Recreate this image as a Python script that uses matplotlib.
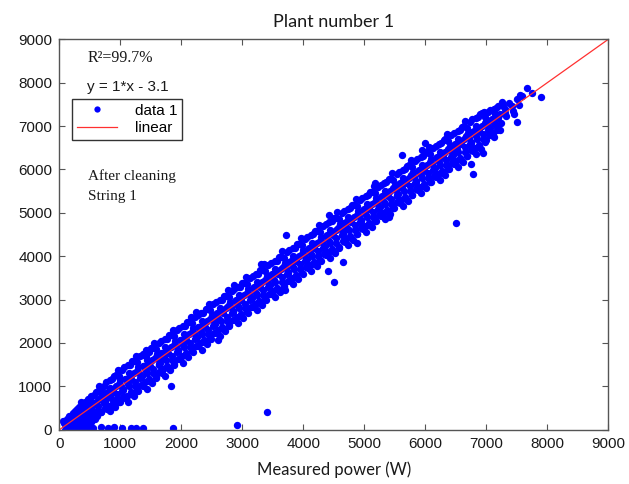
import matplotlib
matplotlib.use("Agg")
import matplotlib.pyplot as plt

# measured vs. modelled power (W)
samples = [
    (60, 200), (80, 165), (100, 140), (115, 105), (130, 70), (145, 35), (90, 0),
    (170, 320), (240, 270), (195, 230), (225, 190), (155, 140), (210, 90), (235, 40),
    (300, 470), (265, 435), (330, 350), (285, 290), (345, 210), (275, 150), (320, 110),
    (360, 630), (380, 540), (400, 480), (415, 410), (430, 340), (445, 260), (390, 180),
    (470, 720), (540, 630), (495, 550), (525, 480), (455, 390), (510, 310), (535, 220),
    (600, 870), (565, 810), (630, 680), (585, 590), (645, 460), (575, 370), (620, 310),
    (660, 1010), (680, 900), (700, 810), (715, 720), (730, 620), (745, 500), (690, 400),
    (770, 1090), (840, 970), (795, 870), (825, 770), (755, 660), (810, 550), (835, 430),
    (900, 1230), (865, 1160), (930, 1000), (885, 880), (945, 720), (875, 610), (920, 530),
    (960, 1380), (980, 1240), (1000, 1140), (1015, 1020), (1030, 900), (1045, 760), (990, 630),
    (1070, 1450), (1140, 1310), (1095, 1180), (1125, 1060), (1055, 930), (1110, 790), (1135, 650),
    (1200, 1580), (1165, 1500), (1230, 1310), (1185, 1180), (1245, 1000), (1175, 870), (1220, 780),
    (1260, 1710), (1280, 1560), (1300, 1450), (1315, 1320), (1330, 1190), (1345, 1040), (1290, 900),
    (1370, 1750), (1440, 1610), (1395, 1480), (1425, 1360), (1355, 1230), (1410, 1090), (1435, 950),
    (1380, 1720), (1420, 1700),
    (1500, 1880), (1465, 1800), (1530, 1610), (1485, 1480), (1545, 1300), (1475, 1170), (1520, 1080),
    (1560, 2010), (1580, 1860), (1600, 1750), (1615, 1620), (1630, 1490), (1645, 1340), (1590, 1200),
    (1670, 2050), (1740, 1910), (1695, 1780), (1725, 1660), (1655, 1530), (1710, 1390), (1735, 1250),
    (1800, 2180), (1765, 2100), (1830, 1910), (1785, 1780), (1845, 1600), (1775, 1470), (1820, 1380),
    (1860, 2310), (1880, 2160), (1900, 2050), (1915, 1920), (1930, 1790), (1945, 1640), (1890, 1500),
    (1970, 2350), (2040, 2210), (1995, 2080), (2025, 1960), (1955, 1830), (2010, 1690), (2035, 1550),
    (2100, 2480), (2065, 2400), (2130, 2210), (2085, 2080), (2145, 1900), (2075, 1770), (2120, 1680),
    (2160, 2610), (2180, 2460), (2200, 2350), (2215, 2220), (2230, 2090), (2245, 1940), (2190, 1800),
    (2270, 2650), (2340, 2510), (2295, 2380), (2325, 2260), (2255, 2130), (2310, 1990), (2335, 1850),
    (2400, 2780), (2365, 2700), (2430, 2510), (2385, 2380), (2445, 2200), (2375, 2070), (2420, 1980),
    (2460, 2910), (2480, 2760), (2500, 2650), (2515, 2520), (2530, 2390), (2545, 2240), (2490, 2100),
    (2570, 2950), (2640, 2810), (2595, 2680), (2625, 2560), (2555, 2430), (2610, 2290), (2635, 2150),
    (2700, 3080), (2665, 3000), (2730, 2810), (2685, 2680), (2745, 2500), (2675, 2370), (2720, 2280),
    (2760, 3210), (2780, 3060), (2800, 2950), (2815, 2820), (2830, 2690), (2845, 2540), (2790, 2400),
    (2870, 3250), (2940, 3110), (2895, 2980), (2925, 2860), (2855, 2730), (2910, 2590), (2935, 2450),
    (3000, 3380), (2965, 3300), (3030, 3110), (2985, 2980), (3045, 2800), (2975, 2670), (3020, 2580),
    (3060, 3510), (3080, 3360), (3100, 3250), (3115, 3120), (3130, 2990), (3145, 2840), (3090, 2700),
    (3170, 3550), (3240, 3410), (3195, 3280), (3225, 3160), (3155, 3030), (3210, 2890), (3235, 2750),
    (3300, 3680), (3265, 3600), (3330, 3410), (3285, 3280), (3345, 3100), (3275, 2970), (3320, 2880),
    (3360, 3810), (3380, 3660), (3400, 3550), (3415, 3420), (3430, 3290), (3445, 3140), (3390, 3000),
    (3470, 3850), (3540, 3710), (3495, 3580), (3525, 3460), (3455, 3330), (3510, 3190), (3535, 3050),
    (3600, 3980), (3565, 3900), (3630, 3710), (3585, 3580), (3645, 3400), (3575, 3270), (3620, 3180),
    (3660, 4110), (3680, 3960), (3700, 3850), (3715, 3720), (3730, 3590), (3745, 3440), (3690, 3300),
    (3770, 4150), (3840, 4010), (3795, 3880), (3825, 3760), (3755, 3630), (3810, 3490), (3835, 3350),
    (3900, 4280), (3865, 4200), (3930, 4010), (3885, 3880), (3945, 3700), (3875, 3570), (3920, 3480),
    (3960, 4410), (3980, 4260), (4000, 4150), (4015, 4020), (4030, 3890), (4045, 3740), (3990, 3600),
    (4070, 4450), (4140, 4310), (4095, 4180), (4125, 4060), (4055, 3930), (4110, 3790), (4135, 3650),
    (4200, 4580), (4165, 4500), (4230, 4310), (4185, 4180), (4245, 4000), (4175, 3870), (4220, 3780),
    (4260, 4710), (4280, 4560), (4300, 4450), (4315, 4320), (4330, 4190), (4345, 4040), (4290, 3900),
    (4370, 4750), (4440, 4610), (4395, 4480), (4425, 4360), (4355, 4230), (4410, 4090), (4435, 3950),
    (4500, 4880), (4465, 4800), (4530, 4610), (4485, 4480), (4545, 4300), (4475, 4170), (4520, 4080),
    (4560, 5010), (4580, 4860), (4600, 4750), (4615, 4620), (4630, 4490), (4645, 4340), (4590, 4200),
    (4670, 5050), (4740, 4910), (4695, 4780), (4725, 4660), (4655, 4530), (4710, 4390), (4735, 4250),
    (4800, 5180), (4765, 5100), (4830, 4910), (4785, 4780), (4845, 4600), (4775, 4470), (4820, 4380),
    (4860, 5310), (4880, 5160), (4900, 5050), (4915, 4920), (4930, 4790), (4945, 4640), (4890, 4500),
    (4970, 5350), (5040, 5210), (4995, 5080), (5025, 4960), (4955, 4830), (5010, 4690), (5035, 4550),
    (5100, 5480), (5065, 5400), (5130, 5210), (5085, 5080), (5145, 4900), (5075, 4770), (5120, 4680),
    (5160, 5610), (5180, 5460), (5200, 5350), (5215, 5220), (5230, 5090), (5245, 4940), (5190, 4800),
    (5270, 5650), (5340, 5510), (5295, 5380), (5325, 5260), (5255, 5130), (5310, 4990), (5335, 4850),
    (5400, 5780), (5365, 5700), (5430, 5510), (5385, 5380), (5445, 5200), (5375, 5070), (5420, 4980),
    (5460, 5910), (5480, 5760), (5500, 5650), (5515, 5520), (5530, 5390), (5545, 5240), (5490, 5100),
    (5570, 5950), (5640, 5810), (5595, 5680), (5625, 5560), (5555, 5430), (5610, 5290), (5635, 5150),
    (5700, 6080), (5665, 6000), (5730, 5810), (5685, 5680), (5745, 5500), (5675, 5370), (5720, 5280),
    (5760, 6210), (5780, 6060), (5800, 5950), (5815, 5820), (5830, 5690), (5845, 5540), (5790, 5400),
    (5870, 6250), (5940, 6110), (5895, 5980), (5925, 5860), (5855, 5730), (5910, 5590), (5935, 5450),
    (6000, 6380), (5965, 6300), (6030, 6110), (5985, 5980), (6045, 5800), (5975, 5670), (6020, 5580),
    (6060, 6510), (6080, 6360), (6100, 6250), (6115, 6120), (6130, 5990), (6145, 5840), (6090, 5700),
    (6170, 6550), (6240, 6410), (6195, 6280), (6225, 6160), (6155, 6030), (6210, 5890), (6235, 5750),
    (6300, 6680), (6265, 6600), (6330, 6410), (6285, 6280), (6345, 6100), (6275, 5970), (6320, 5880),
    (6360, 6810), (6380, 6660), (6400, 6550), (6415, 6420), (6430, 6290), (6445, 6140), (6390, 6000),
    (6470, 6850), (6540, 6710), (6495, 6580), (6525, 6460), (6455, 6330), (6510, 6190), (6535, 6050),
    (6600, 6980), (6565, 6900), (6630, 6710), (6585, 6580), (6645, 6400), (6575, 6270), (6620, 6180),
    (6660, 7110), (6680, 6960), (6700, 6850), (6715, 6720), (6730, 6590), (6745, 6440), (6690, 6300),
    (6770, 7150), (6840, 7010), (6795, 6880), (6825, 6760), (6755, 6630), (6810, 6490), (6835, 6350),
    (6900, 7280), (6865, 7200), (6930, 7010), (6885, 6880), (6945, 6700), (6875, 6570), (6920, 6480),
    (6960, 7330), (6980, 7210), (7000, 7120), (7015, 7020), (7030, 6910), (7045, 6790), (6990, 6680),
    (7070, 7380), (7140, 7270), (7095, 7160), (7125, 7070), (7055, 6960), (7110, 6850), (7135, 6740),
    (7200, 7470), (7165, 7410), (7230, 7280), (7185, 7190), (7245, 7060), (7175, 6970), (7220, 6910),
    (7260, 7550), (7280, 7450), (7300, 7390), (7315, 7310), (7330, 7240),
    (7370, 7520), (7420, 7450), (7440, 7350), (7460, 7280),
    (7500, 7620), (7540, 7480), (7580, 7700), (7560, 7720), (7670, 7880), (7750, 7760), (7890, 7670),
    # points lying between the rows above
    (130, 250), (175, 180), (145, 110), (180, 50),
    (230, 390), (275, 290), (245, 190), (280, 120),
    (330, 520), (375, 400), (345, 280), (380, 190),
    (430, 650), (475, 510), (445, 370), (480, 260),
    (530, 770), (575, 620), (545, 460), (580, 330),
    (630, 900), (675, 730), (645, 550), (680, 410),
    (730, 1020), (775, 840), (745, 640), (780, 490),
    (830, 1140), (875, 940), (845, 730), (880, 570),
    (930, 1260), (975, 1050), (945, 820), (980, 650),
    (1030, 1380), (1075, 1160), (1045, 920), (1080, 730),
    (1130, 1490), (1175, 1260), (1145, 1010), (1180, 820),
    (1230, 1590), (1275, 1360), (1245, 1110), (1280, 920),
    (1330, 1690), (1375, 1460), (1345, 1210), (1380, 1020),
    (1430, 1790), (1475, 1560), (1445, 1310), (1480, 1120),
    (1530, 1890), (1575, 1660), (1545, 1410), (1580, 1220),
    (1630, 1990), (1675, 1760), (1645, 1510), (1680, 1320),
    (1730, 2090), (1775, 1860), (1745, 1610), (1780, 1420),
    (1830, 2190), (1875, 1960), (1845, 1710), (1880, 1520),
    (1930, 2290), (1975, 2060), (1945, 1810), (1980, 1620),
    (2030, 2390), (2075, 2160), (2045, 1910), (2080, 1720),
    (2130, 2490), (2175, 2260), (2145, 2010), (2180, 1820),
    (2230, 2590), (2275, 2360), (2245, 2110), (2280, 1920),
    (2330, 2690), (2375, 2460), (2345, 2210), (2380, 2020),
    (2430, 2790), (2475, 2560), (2445, 2310), (2480, 2120),
    (2530, 2890), (2575, 2660), (2545, 2410), (2580, 2220),
    (2630, 2990), (2675, 2760), (2645, 2510), (2680, 2320),
    (2730, 3090), (2775, 2860), (2745, 2610), (2780, 2420),
    (2830, 3190), (2875, 2960), (2845, 2710), (2880, 2520),
    (2930, 3290), (2975, 3060), (2945, 2810), (2980, 2620),
    (3030, 3390), (3075, 3160), (3045, 2910), (3080, 2720),
    (3130, 3490), (3175, 3260), (3145, 3010), (3180, 2820),
    (3230, 3590), (3275, 3360), (3245, 3110), (3280, 2920),
    (3330, 3690), (3375, 3460), (3345, 3210), (3380, 3020),
    (3430, 3790), (3475, 3560), (3445, 3310), (3480, 3120),
    (3530, 3890), (3575, 3660), (3545, 3410), (3580, 3220),
    (3630, 3990), (3675, 3760), (3645, 3510), (3680, 3320),
    (3730, 4090), (3775, 3860), (3745, 3610), (3780, 3420),
    (3830, 4190), (3875, 3960), (3845, 3710), (3880, 3520),
    (3930, 4290), (3975, 4060), (3945, 3810), (3980, 3620),
    (4030, 4390), (4075, 4160), (4045, 3910), (4080, 3720),
    (4130, 4490), (4175, 4260), (4145, 4010), (4180, 3820),
    (4230, 4590), (4275, 4360), (4245, 4110), (4280, 3920),
    (4330, 4690), (4375, 4460), (4345, 4210), (4380, 4020),
    (4430, 4790), (4475, 4560), (4445, 4310), (4480, 4120),
    (4530, 4890), (4575, 4660), (4545, 4410), (4580, 4220),
    (4630, 4990), (4675, 4760), (4645, 4510), (4680, 4320),
    (4730, 5090), (4775, 4860), (4745, 4610), (4780, 4420),
    (4830, 5190), (4875, 4960), (4845, 4710), (4880, 4520),
    (4930, 5290), (4975, 5060), (4945, 4810), (4980, 4620),
    (5030, 5390), (5075, 5160), (5045, 4910), (5080, 4720),
    (5130, 5490), (5175, 5260), (5145, 5010), (5180, 4820),
    (5230, 5590), (5275, 5360), (5245, 5110), (5280, 4920),
    (5330, 5690), (5375, 5460), (5345, 5210), (5380, 5020),
    (5430, 5790), (5475, 5560), (5445, 5310), (5480, 5120),
    (5530, 5890), (5575, 5660), (5545, 5410), (5580, 5220),
    (5630, 5990), (5675, 5760), (5645, 5510), (5680, 5320),
    (5730, 6090), (5775, 5860), (5745, 5610), (5780, 5420),
    (5830, 6190), (5875, 5960), (5845, 5710), (5880, 5520),
    (5930, 6290), (5975, 6060), (5945, 5810), (5980, 5620),
    (6030, 6390), (6075, 6160), (6045, 5910), (6080, 5720),
    (6130, 6490), (6175, 6260), (6145, 6010), (6180, 5820),
    (6230, 6590), (6275, 6360), (6245, 6110), (6280, 5920),
    (6330, 6690), (6375, 6460), (6345, 6210), (6380, 6020),
    (6430, 6790), (6475, 6560), (6445, 6310), (6480, 6120),
    (6530, 6890), (6575, 6660), (6545, 6410), (6580, 6220),
    (6630, 6990), (6675, 6760), (6645, 6510), (6680, 6320),
    (6730, 7090), (6775, 6860), (6745, 6610), (6780, 6420),
    (6830, 7190), (6875, 6960), (6845, 6710), (6880, 6520),
    (6930, 7290), (6975, 7060), (6945, 6810), (6980, 6620),
    (7030, 7320), (7075, 7140), (7045, 6940), (7080, 6790),
    (7130, 7400), (7175, 7230), (7145, 7050), (7180, 6900),
    # ragged edges of the band
    (1420, 1830), (2240, 2720), (2860, 3340), (3310, 3830), (4420, 4950),
    (5180, 5690), (5950, 6450), (2600, 2060), (3700, 3230), (5400, 4900),
    # low tail along the x axis and the bent lower arm
    (150, 20), (250, 30), (380, 40), (480, 50), (560, 30), (680, 60), (800, 40),
    (900, 60), (1030, 50), (1170, 30), (1260, 40), (1380, 30),
    (300, 60), (380, 100), (450, 140), (520, 190), (580, 250),
    # stray points
    (1840, 1010), (3410, 415), (2920, 115), (1870, 45),
    (4890, 4300), (4660, 3870), (4410, 3660), (4510, 3410), (3720, 4480),
    (5620, 6340), (6000, 6610), (6750, 6130), (6780, 5900), (6950, 6380),
    (6500, 4770), (7500, 7100),
]
measured = [p[0] for p in samples]
modelled = [p[1] for p in samples]

fit_slope = 1.0
fit_offset = -3.1
fit_x = [0, 9000]
fit_y = [fit_slope * v + fit_offset for v in fit_x]

ticks = [0, 1000, 2000, 3000, 4000, 5000, 6000, 7000, 8000, 9000]

fig = plt.figure(figsize=(6.29, 4.84), dpi=100)
ax = fig.add_axes([0.094, 0.112, 0.873, 0.807])

ax.plot(measured, modelled, 'o', color='#0000ff', markersize=5.3,
        markeredgewidth=0, linestyle='none', label='data 1')
ax.plot(fit_x, fit_y, '-', color='#ff3030', lw=0.9, label='linear')

ax.set_xlim(0, 9000)
ax.set_ylim(0, 9000)
ax.set_xticks(ticks)
ax.set_yticks(ticks)
ax.tick_params(direction='in', length=4, width=0.8, top=True, right=True,
               labelsize=11, colors='#555555', labelcolor='#1a1a1a', pad=5)
for lab in ax.get_xticklabels() + ax.get_yticklabels():
    lab.set_family('Liberation Sans')
for sp in ax.spines.values():
    sp.set_color('#555555')
    sp.set_linewidth(1.0)

ax.set_title('Plant number 1', family='Lato', fontsize=13, color='#1a1a1a', pad=9)
ax.set_xlabel('Measured power (W)', family='Lato', fontsize=12, color='#1a1a1a', labelpad=8)

leg = ax.legend(loc='upper left', bbox_to_anchor=(0.024, 0.847), borderaxespad=0,
                fancybox=False, edgecolor='#333333', framealpha=1,
                prop={'family': 'Liberation Sans', 'size': 11},
                handlelength=2.6, borderpad=0.3, labelspacing=0.25, handletextpad=1.2,
                markerscale=0.85)
leg.get_frame().set_linewidth(1.0)

ax.text(0.052, 0.951, 'R\u00b2=99.7%', transform=ax.transAxes, family='Liberation Serif',
        fontsize=11.5, va='center', ha='left', color='#1a1a1a')
ax.text(0.05, 0.878, 'y = 1*x - 3.1', transform=ax.transAxes, family='Liberation Sans',
        fontsize=11, va='center', ha='left', color='#1a1a1a')
ax.text(0.053, 0.65, 'After cleaning', transform=ax.transAxes, family='Liberation Serif',
        fontsize=11, va='center', ha='left', color='#1a1a1a')
ax.text(0.053, 0.598, 'String 1', transform=ax.transAxes, family='Liberation Serif',
        fontsize=11, va='center', ha='left', color='#1a1a1a')

fig.savefig('out.png', dpi=100)
